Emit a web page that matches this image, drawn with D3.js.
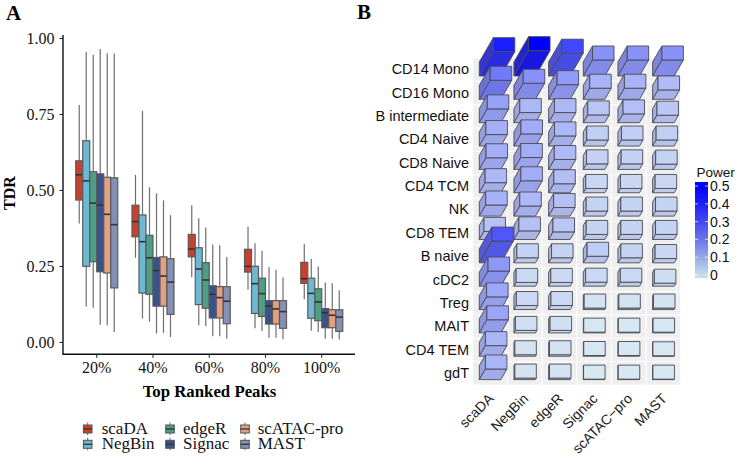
<!DOCTYPE html>
<html><head><meta charset="utf-8">
<script src="https://cdn.jsdelivr.net/npm/d3@7"></script>
<style>html,body{margin:0;padding:0;background:#fff}svg{display:block}</style>
</head><body><svg id="c" width="739" height="456"></svg>
<script>
const groups = ["20%","40%","60%","80%","100%"];
const methods = ["scaDA","NegBin","edgeR","Signac","scATAC-pro","MAST"];
const boxColors = ["#C9402F","#6DB9D4","#4E9E83","#3B5287","#E59E80","#8491B4"];
// each: [low, q1, median, q3, high] per group
const scaDA  = [[.39,.467,.55,.596,.78],[.277,.346,.396,.45,.55],[.213,.28,.306,.354,.45],[.172,.23,.249,.305,.379],[.141,.193,.208,.262,.322]];
const NegBin = [[.116,.249,.53,.662,.955],[.077,.161,.33,.418,.76],[.055,.123,.24,.31,.407],[.045,.094,.192,.249,.325],[.037,.078,.16,.21,.273]];
const edgeR  = [[.113,.264,.457,.56,.945],[.067,.157,.277,.351,.509],[.053,.111,.204,.261,.377],[.036,.084,.159,.21,.3],[.033,.07,.132,.175,.248]];
const Signac = [[.057,.231,.45,.553,.964],[.028,.118,.235,.278,.489],[.019,.079,.157,.185,.321],[.014,.059,.118,.136,.246],[.011,.047,.096,.11,.196]];
const scATAC = [[.055,.227,.42,.542,.95],[.03,.118,.217,.28,.466],[.019,.079,.146,.182,.318],[.014,.059,.109,.136,.238],[.011,.047,.088,.106,.193]];
const MAST   = [[.033,.178,.386,.54,.949],[.016,.091,.197,.274,.417],[.011,.06,.134,.182,.28],[.009,.045,.1,.136,.212],[.008,.035,.082,.106,.17]];
const boxData = [scaDA,NegBin,edgeR,Signac,scATAC,MAST];
const yTicks = [0,.25,.5,.75,1];

const cellTypes = ["CD14 Mono","CD16 Mono","B intermediate","CD4 Naive","CD8 Naive","CD4 TCM","NK","CD8 TEM","B naive","cDC2","Treg","MAIT","CD4 TEM","gdT"];
const power = [
 [.48,.5,.45,.316,.316,.316],
 [.376,.317,.29,.22,.22,.186],
 [.273,.2,.2,.154,.174,.148],
 [.227,.24,.2,.12,.12,.12],
 [.23,.235,.196,.11,.11,.105],
 [.2,.237,.178,.085,.085,.085],
 [.22,.2,.17,.1,.1,.1],
 [.16,.17,.15,.1,.1,.1],
 [.43,.1,.1,.13,.1,.085],
 [.3,.075,.075,.08,.08,.06],
 [.25,.08,.08,.03,.03,.03],
 [.26,.05,.05,.015,.015,.015],
 [.21,.03,.03,.015,.015,.01],
 [.21,.03,.03,.01,.01,.01]];
const powerTicks = [0,.1,.2,.3,.4,.5];
const cellStops = [0,.1,.2,.3,.38,.45,.5];
const cellColors = ["#d9eaf1","#c6d4f3","#adb8f6","#8e98f9","#6f78fa","#4248fb","#0000ff"];
const legendColors = ["#c5dfea","#95a8e6","#6c74ea","#4448f0","#1e1ef8","#0000ff"];

const svg = d3.select("#c");
const serif = "'Liberation Serif',serif", sans = "'Liberation Sans',sans-serif";
svg.append("text").text("A").attr("x",6).attr("y",20).attr("font-family",serif).attr("font-weight","bold").attr("font-size",21);
svg.append("text").text("B").attr("x",357).attr("y",19).attr("font-family",serif).attr("font-weight","bold").attr("font-size",21);

// Panel A
const y = d3.scaleLinear().domain([0,1]).range([342,38]);
const x = d3.scaleBand().domain(groups).range([68.6,349.9]);
const xIn = d3.scaleBand().domain(methods).range([-21,21]);
const gA = svg.append("g");
boxData.forEach((series,m)=>{
  const g = gA.append("g");
  series.forEach((d,i)=>{
    const l = x(groups[i])+x.bandwidth()/2+xIn(methods[m]), w = xIn.bandwidth(), cx = l+w/2;
    g.append("line").attr("x1",cx).attr("x2",cx).attr("y1",y(d[0])).attr("y2",y(d[4])).attr("stroke","#6e6e6e").attr("stroke-width",1.2);
    g.append("rect").attr("x",l).attr("width",w).attr("y",y(d[3])).attr("height",y(d[1])-y(d[3])).attr("fill",boxColors[m]).attr("stroke","#5a5a5a").attr("stroke-width",1.2);
    g.append("line").attr("x1",l).attr("x2",l+w).attr("y1",y(d[2])).attr("y2",y(d[2])).attr("stroke","#333").attr("stroke-width",1.6);
  });
});
const axY = svg.append("g").attr("transform","translate(63,0)").call(d3.axisLeft(y).tickValues(yTicks).tickFormat(d3.format(".2f")).tickSize(3.5).tickPadding(5));
const axX = svg.append("g").attr("transform","translate(0,354.3)").call(d3.axisBottom(x).tickSize(3.5).tickPadding(3.5));
[axY,axX].forEach(a=>{a.selectAll("text").attr("font-family",serif).attr("font-size",16).attr("fill","#111");
  a.selectAll(".tick line").attr("stroke","#222").attr("stroke-width",1);a.select(".domain").remove();});
svg.append("path").attr("d","M63,35V354.3H355").attr("fill","none").attr("stroke","#111").attr("stroke-width",1.4);
svg.append("text").text("Top Ranked Peaks").attr("x",209.5).attr("y",397).attr("text-anchor","middle").attr("font-family",serif).attr("font-weight","bold").attr("font-size",16.8);
svg.append("text").text("TDR").attr("transform","translate(15,193) rotate(-90)").attr("text-anchor","middle").attr("font-family",serif).attr("font-weight","bold").attr("font-size",16);
// Legend A
const legX = [87.7,170,245], legTxt=[101.7,183,257.7], legY=[429,444.3];
methods.forEach((m,i)=>{
  const c = Math.floor(i/2), r = i%2, cx = legX[c], cy = legY[r];
  const g = svg.append("g");
  g.append("line").attr("x1",cx).attr("x2",cx).attr("y1",cy-6.5).attr("y2",cy+6).attr("stroke","#666");
  g.append("rect").attr("x",cx-4.3).attr("width",8.6).attr("y",cy-4).attr("height",8).attr("fill",boxColors[i]).attr("stroke","#555");
  g.append("line").attr("x1",cx-4.3).attr("x2",cx+4.3).attr("y1",cy).attr("y2",cy).attr("stroke","#333").attr("stroke-width",1.3);
  svg.append("text").text(m).attr("x",legTxt[c]).attr("y",cy+4.5).attr("font-family",serif).attr("font-size",17).attr("fill","#111");
});

// Panel B
const col = d3.scaleBand().domain(methods).range([472.7,680.7]);
const row = d3.scaleBand().domain(cellTypes).range([58,385]);
const colorOf = d3.scaleLinear().domain(cellStops).range(cellColors).interpolate(d3.interpolateRgb);
const ddx = d3.scaleLinear().domain([0,.5]).range([0,14.6]);
const ddy = d3.scaleLinear().domain([0,.5]).range([0,25.3]);
const shadeFront = d3.scaleLinear().domain([.1,.3,.5]).range([.1,.13,.24]).clamp(true);
const shadeSide = d3.scaleLinear().domain([.1,.3,.5]).range([.2,.25,.38]).clamp(true);
const gT = svg.append("g"), gB = svg.append("g");
cellTypes.forEach(rn=>methods.forEach(cn=>{
  gT.append("rect").attr("x",col(cn)+.5).attr("y",row(rn)+.5).attr("width",col.bandwidth()-1).attr("height",row.bandwidth()-1).attr("fill","#efefef");
}));
const bw=21.5,bh=14;
cellTypes.forEach((rn,r)=>{
  methods.forEach((cn,c)=>{
    const v = power[r][c], X = col(cn)+6.6, Y = row(rn)+row.bandwidth()/2+6.3, dx=ddx(v), dy=ddy(v);
    const k = colorOf(v);
    const g = gB.append("g").attr("stroke","#4a4a55").attr("stroke-width",.9).attr("stroke-linejoin","round");
    g.append("path").attr("d",`M${X},${Y}L${X},${Y-bh}L${X+dx},${Y-bh-dy}L${X+dx},${Y-dy}Z`).attr("fill",d3.interpolateRgb(k,"#606080")(shadeSide(v)));
    g.append("path").attr("d",`M${X},${Y}L${X+bw},${Y}L${X+bw+dx},${Y-dy}L${X+dx},${Y-dy}Z`).attr("fill",d3.interpolateRgb(k,"#606080")(shadeFront(v)));
    g.append("rect").attr("x",X+dx).attr("y",Y-dy-bh).attr("width",bw).attr("height",bh).attr("fill",k);
  });
});
const ax1 = svg.append("g").attr("transform","translate(473,0)").call(d3.axisLeft(row).tickSize(0).tickPadding(4));
ax1.select(".domain").remove();
ax1.selectAll("text").attr("font-family",sans).attr("font-size",14.5).attr("fill","#111");
methods.forEach(m=>{
  const cx = col(m)+col.bandwidth()/2;
  svg.append("text").text(m.replace("-","\u2212")).attr("transform",`translate(${cx-0.5},${394.5}) rotate(-45)`).attr("text-anchor","end").attr("dy","0.5em").attr("font-family",sans).attr("font-size",14).attr("fill","#222");
});
// colour bar
const pw = d3.scaleLinear().domain([0,.5]).range([275,186]);
const defs = svg.append("defs"), gr = defs.append("linearGradient").attr("id","pg").attr("x1",0).attr("x2",0).attr("y1",1).attr("y2",0);
powerTicks.forEach((t,i)=>gr.append("stop").attr("offset",i/(powerTicks.length-1)).attr("stop-color",legendColors[i]));
svg.append("rect").attr("x",695).attr("y",pw(.5)-4).attr("width",13).attr("height",6).attr("fill",legendColors[5]);
svg.append("rect").attr("x",695).attr("y",pw(.5)).attr("width",13).attr("height",pw(0)-pw(.5)).attr("fill","url(#pg)");
svg.append("rect").attr("x",695).attr("y",pw(0)).attr("width",13).attr("height",3).attr("fill",legendColors[0]);
powerTicks.forEach(t=>{
  svg.append("line").attr("x1",695).attr("x2",698).attr("y1",pw(t)).attr("y2",pw(t)).attr("stroke","#fff").attr("stroke-opacity",.7);
  svg.append("line").attr("x1",705).attr("x2",708).attr("y1",pw(t)).attr("y2",pw(t)).attr("stroke","#fff").attr("stroke-opacity",.7);
  svg.append("text").text(t===0?"0":t).attr("x",710).attr("y",pw(t)+5).attr("font-family",sans).attr("font-size",14).attr("fill","#111");
});
svg.append("text").text("Power").attr("x",696.5).attr("y",177).attr("font-family",sans).attr("font-size",13.5).attr("fill","#111");
</script></body></html>
